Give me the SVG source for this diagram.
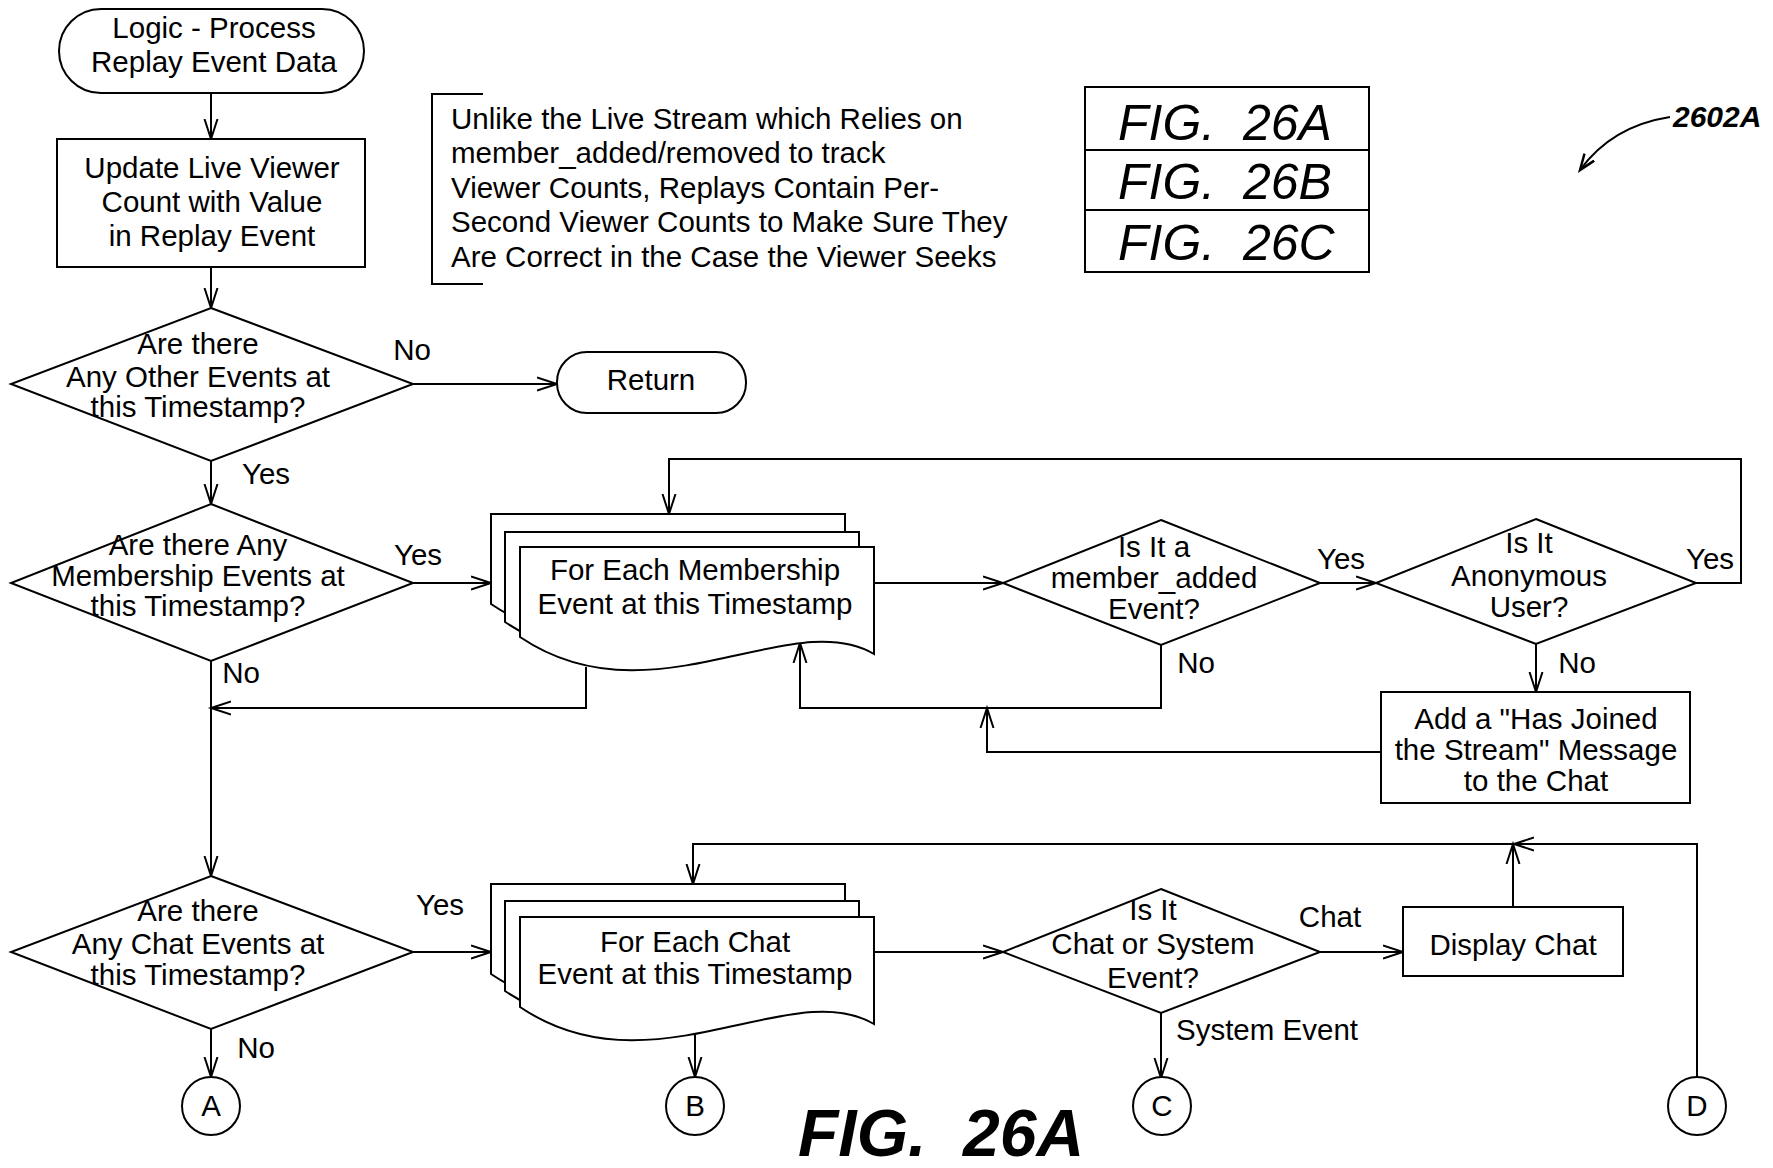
<svg xmlns="http://www.w3.org/2000/svg" xmlns:xlink="http://www.w3.org/1999/xlink" width="1773" height="1168" viewBox="0 0 1773 1168">
<style>
.s{fill:#fff;stroke:#000;stroke-width:2}
.c{fill:none;stroke:#000;stroke-width:2}
text{font-family:"Liberation Sans",Arial,sans-serif;font-size:29.5px;fill:#000}
.m{text-anchor:middle}
.fig{font-style:italic;font-size:50px;white-space:pre}
.big{font-style:italic;font-weight:bold;font-size:66px;white-space:pre}
.ref{font-style:italic;font-weight:bold;font-size:30px}
</style>
<defs>
<marker id="a" markerUnits="userSpaceOnUse" markerWidth="24" markerHeight="18" refX="20" refY="8" orient="auto">
<path d="M0,1.5 L20,8 L0,14.5" fill="none" stroke="#000" stroke-width="2"/>
</marker>
<marker id="a2" markerUnits="userSpaceOnUse" markerWidth="20" markerHeight="16" refX="16" refY="7" orient="auto">
<path d="M0,1 L16,7 L0,13" fill="none" stroke="#000" stroke-width="2.5"/>
</marker>
<path id="doc" d="M0,0 H354 V107 C270,58 130,178 0,90 Z"/>
</defs>
<rect width="1773" height="1168" fill="#fff"/>

<g id="connectors">
<path class="c" d="M211,93 V139" marker-end="url(#a)"/>
<path class="c" d="M211,267 V308" marker-end="url(#a)"/>
<path class="c" d="M413,384 H557" marker-end="url(#a)"/>
<path class="c" d="M211,461 V504" marker-end="url(#a)"/>
<path class="c" d="M413,583 H491" marker-end="url(#a)"/>
<path class="c" d="M211,661 V876" marker-end="url(#a)"/>
<path class="c" d="M586,667 V708 H211" marker-end="url(#a)"/>
<path class="c" d="M874,583 H1003" marker-end="url(#a)"/>
<path class="c" d="M1320,583 H1376" marker-end="url(#a)"/>
<path class="c" d="M1696,583 H1741 V459 H669 V514" marker-end="url(#a)"/>
<path class="c" d="M1161,645 V708 H800 V643" marker-end="url(#a)"/>
<path class="c" d="M1536,644 V692" marker-end="url(#a)"/>
<path class="c" d="M1381,752 H987 V708" marker-end="url(#a)"/>
<path class="c" d="M211,1029 V1077" marker-end="url(#a)"/>
<path class="c" d="M413,952 H491" marker-end="url(#a)"/>
<path class="c" d="M874,952 H1003" marker-end="url(#a)"/>
<path class="c" d="M695,1034 V1077" marker-end="url(#a)"/>
<path class="c" d="M1320,952 H1403" marker-end="url(#a)"/>
<path class="c" d="M1161,1013 V1078" marker-end="url(#a)"/>
<path class="c" d="M1513,907 V844" marker-end="url(#a)"/>
<path class="c" d="M1697,1077 V844 H1514" marker-end="url(#a)"/>
<path class="c" d="M1513,844 H693 V884" marker-end="url(#a)"/>
<path class="c" d="M1670,117 Q1612,126 1580,170" marker-end="url(#a2)"/>
</g>

<g id="start">
<rect class="s" x="59" y="9" width="305" height="84" rx="42"/>
<text class="m" x="214" y="38">Logic - Process</text>
<text class="m" x="214" y="72">Replay Event Data</text>
</g>

<g id="update">
<rect class="s" x="57" y="139" width="308" height="128"/>
<text class="m" x="212" y="178">Update Live Viewer</text>
<text class="m" x="212" y="212">Count with Value</text>
<text class="m" x="212" y="246">in Replay Event</text>
</g>

<g id="note">
<path class="c" d="M483,94 H432 V284 H483"/>
<text x="451" y="129">Unlike the Live Stream which Relies on</text>
<text x="451" y="163">member_added/removed to track</text>
<text x="451" y="198">Viewer Counts, Replays Contain Per-</text>
<text x="451" y="232">Second Viewer Counts to Make Sure They</text>
<text x="451" y="267">Are Correct in the Case the Viewer Seeks</text>
</g>

<g id="figtable">
<rect class="s" x="1085" y="87" width="284" height="185"/>
<path class="c" d="M1085,150 H1369 M1085,210 H1369"/>
<text class="fig" x="1118" y="140">FIG.  26A</text>
<text class="fig" x="1118" y="199">FIG.  26B</text>
<text class="fig" x="1118" y="260">FIG.  26C</text>
</g>

<g id="ref2602A">
<text class="ref" x="1673" y="127">2602A</text>
</g>

<g id="other-events">
<polygon class="s" points="211,308 413,384 211,461 11,384"/>
<text class="m" x="198" y="354">Are there</text>
<text class="m" x="198" y="387">Any Other Events at</text>
<text class="m" x="198" y="417">this Timestamp?</text>
</g>
<text class="m" x="412" y="360">No</text>

<g id="return">
<rect class="s" x="557" y="352" width="189" height="61" rx="30"/>
<text class="m" x="651" y="390">Return</text>
</g>

<text class="m" x="266" y="484">Yes</text>

<g id="membership-events">
<polygon class="s" points="211,504 413,583 211,661 11,583"/>
<text class="m" x="198" y="555">Are there Any</text>
<text class="m" x="198" y="586">Membership Events at</text>
<text class="m" x="198" y="616">this Timestamp?</text>
</g>
<text class="m" x="418" y="565">Yes</text>
<text class="m" x="241" y="683">No</text>

<g id="for-each-membership">
<use href="#doc" xlink:href="#doc" x="491" y="514" class="s"/>
<use href="#doc" xlink:href="#doc" x="505" y="532" class="s"/>
<use href="#doc" xlink:href="#doc" x="520" y="547" class="s"/>
<text class="m" x="695" y="580">For Each Membership</text>
<text class="m" x="695" y="614">Event at this Timestamp</text>
</g>

<g id="member-added">
<polygon class="s" points="1161,520 1320,583 1161,645 1003,583"/>
<text class="m" x="1154" y="557">Is It a</text>
<text class="m" x="1154" y="588">member_added</text>
<text class="m" x="1154" y="619">Event?</text>
</g>
<text class="m" x="1341" y="569">Yes</text>
<text class="m" x="1196" y="673">No</text>

<g id="anonymous">
<polygon class="s" points="1536,519 1696,583 1536,644 1376,583"/>
<text class="m" x="1529" y="553">Is It</text>
<text class="m" x="1529" y="586">Anonymous</text>
<text class="m" x="1529" y="617">User?</text>
</g>
<text class="m" x="1710" y="569">Yes</text>
<text class="m" x="1577" y="673">No</text>

<g id="has-joined">
<rect class="s" x="1381" y="692" width="309" height="111"/>
<text class="m" x="1536" y="729">Add a "Has Joined</text>
<text class="m" x="1536" y="760">the Stream" Message</text>
<text class="m" x="1536" y="791">to the Chat</text>
</g>

<g id="chat-events">
<polygon class="s" points="211,876 413,952 211,1029 11,952"/>
<text class="m" x="198" y="921">Are there</text>
<text class="m" x="198" y="954">Any Chat Events at</text>
<text class="m" x="198" y="985">this Timestamp?</text>
</g>
<text class="m" x="440" y="915">Yes</text>
<text class="m" x="256" y="1058">No</text>

<g id="for-each-chat">
<use href="#doc" xlink:href="#doc" x="491" y="884" class="s"/>
<use href="#doc" xlink:href="#doc" x="505" y="901" class="s"/>
<use href="#doc" xlink:href="#doc" x="520" y="917" class="s"/>
<text class="m" x="695" y="952">For Each Chat</text>
<text class="m" x="695" y="984">Event at this Timestamp</text>
</g>

<g id="chat-or-system">
<polygon class="s" points="1161,889 1320,952 1161,1013 1003,952"/>
<text class="m" x="1153" y="920">Is It</text>
<text class="m" x="1153" y="954">Chat or System</text>
<text class="m" x="1153" y="988">Event?</text>
</g>
<text class="m" x="1330" y="927">Chat</text>
<text class="m" x="1267" y="1040">System Event</text>

<g id="display-chat">
<rect class="s" x="1403" y="907" width="220" height="69"/>
<text class="m" x="1513" y="955">Display Chat</text>
</g>

<g id="A"><circle class="s" cx="211" cy="1106" r="29"/><text class="m" x="211" y="1116">A</text></g>
<g id="B"><circle class="s" cx="695" cy="1106" r="29"/><text class="m" x="695" y="1116">B</text></g>
<g id="C"><circle class="s" cx="1162" cy="1106" r="29"/><text class="m" x="1162" y="1116">C</text></g>
<g id="D"><circle class="s" cx="1697" cy="1106" r="29"/><text class="m" x="1697" y="1116">D</text></g>

<g id="title"><text class="big" x="798" y="1156">FIG.  26A</text></g>
</svg>
